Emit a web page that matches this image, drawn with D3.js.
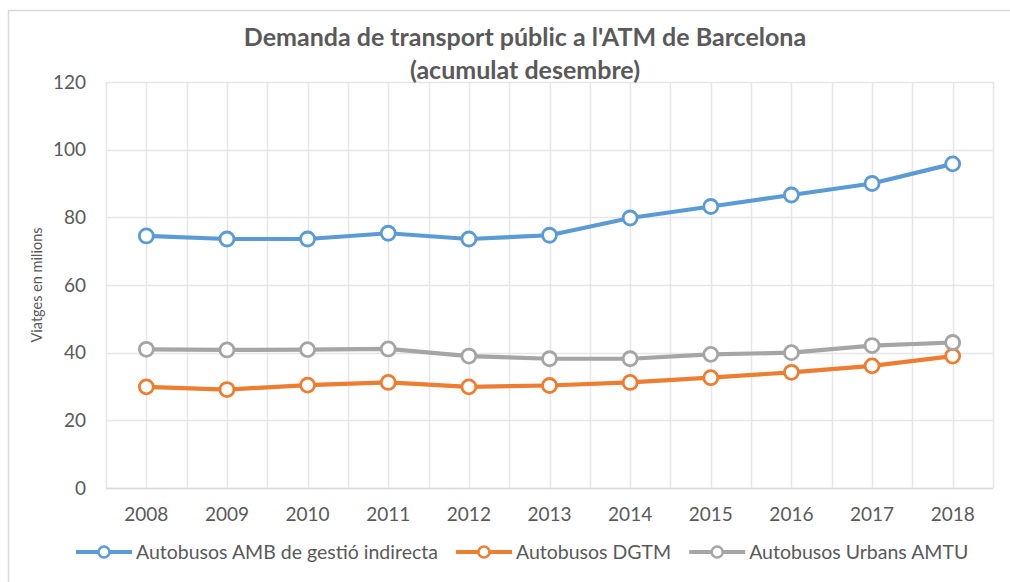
<!DOCTYPE html>
<html><head><meta charset="utf-8">
<script src="https://cdn.jsdelivr.net/npm/d3@7"></script>
<style>body{margin:0;background:#fff;} svg{display:block;font-family:Lato,"Open Sans",sans-serif;}</style>
</head><body>
<svg id="c" width="1010" height="582"></svg>
<script>
const years = ["2008","2009","2010","2011","2012","2013","2014","2015","2016","2017","2018"];
const amb  = [74.5,73.6,73.6,75.3,73.6,74.7,79.8,83.2,86.6,90.0,95.8];
const dgtm = [29.9,29.1,30.4,31.2,29.9,30.3,31.2,32.6,34.2,36.1,39.0];
const amtu = [41.0,40.8,40.9,41.1,39.0,38.2,38.2,39.5,40.0,42.1,43.0];
const seriesNames = ["Autobusos AMB de gestió indirecta","Autobusos DGTM","Autobusos Urbans AMTU"];
const colors = ["#5B9BD5","#ED7D31","#A5A5A5"];
const yTicks = [0,20,40,60,80,100,120];
const titleLines = ["Demanda de transport públic a l'ATM de Barcelona","(acumulat desembre)"];
const yTitle = "Viatges en milions";

const svg = d3.select("#c");
const L = 106, R = 993, T = 82, B = 488;
const textCol = "#595959";

// chart border
svg.append("path").attr("d","M8.5,582 V10.5 H1010").attr("fill","none").attr("stroke","#d9d9d9").attr("stroke-width",1.5);

const x = d3.scaleBand().domain(years).range([L,R]).paddingInner(0).paddingOuter(0);
const y = d3.scaleLinear().domain([0,120]).range([B,T]);

const g = svg.append("g");
const vx = [];
years.forEach(yr => { vx.push(x(yr)); vx.push(x(yr)+x.bandwidth()/2); });
vx.push(R);
g.selectAll("line.v").data(vx).join("line")
  .attr("x1",d=>Math.round(d)+0.5).attr("x2",d=>Math.round(d)+0.5).attr("y1",T).attr("y2",B)
  .attr("stroke","#e6e6e6").attr("stroke-width",1.5);
g.selectAll("line.h").data(yTicks).join("line")
  .attr("x1",L).attr("x2",R).attr("y1",d=>Math.round(y(d))+0.5).attr("y2",d=>Math.round(y(d))+0.5)
  .attr("stroke","#e6e6e6").attr("stroke-width",1.5);
g.append("line").attr("x1",L).attr("x2",R).attr("y1",B+0.5).attr("y2",B+0.5).attr("stroke","#d9d9d9").attr("stroke-width",1.5);

// axes
const yAxis = d3.axisLeft(y).tickValues(yTicks).tickSize(0).tickPadding(20);
const ya = svg.append("g").attr("transform",`translate(${L},0)`).call(yAxis);
ya.select(".domain").remove();
ya.selectAll("text").attr("font-size",19).attr("fill",textCol).attr("font-family","Lato,sans-serif");

const xAxis = d3.axisBottom(x).tickSize(0).tickPadding(20);
const xa = svg.append("g").attr("transform",`translate(0,${B})`).call(xAxis);
xa.select(".domain").remove();
xa.selectAll("text").attr("font-size",19).attr("fill",textCol).attr("font-family","Lato,sans-serif");

// y title
svg.append("text").attr("transform",`translate(42,${(T+B)/2}) rotate(-90)`)
  .attr("text-anchor","middle").attr("font-size",14.5).attr("fill",textCol).text(yTitle);

// title
svg.selectAll("text.title").data(titleLines).join("text")
  .attr("x",525).attr("y",(d,i)=>46+i*33).attr("text-anchor","middle")
  .attr("font-size",25).attr("font-weight","bold").attr("fill",textCol).text(d=>d);

// series
const data = [amb,dgtm,amtu];
const cx = d => x(d)+x.bandwidth()/2;
const line = d3.line().x((v,i)=>cx(years[i])).y(v=>y(v));
data.forEach((vals,si)=>{
  svg.append("path").datum(vals).attr("d",line).attr("fill","none")
    .attr("stroke",colors[si]).attr("stroke-width",4.2).attr("stroke-linejoin","round");
  svg.selectAll(null).data(vals).join("circle")
    .attr("cx",(v,i)=>cx(years[i])).attr("cy",v=>y(v)).attr("r",7)
    .attr("fill","#fff").attr("stroke",colors[si]).attr("stroke-width",2.8);
});

// legend
const legY = 552;
let lx = 76;
seriesNames.forEach((name,si)=>{
  const lg = svg.append("g");
  lg.append("line").attr("x1",lx).attr("x2",lx+56).attr("y1",legY).attr("y2",legY)
    .attr("stroke",colors[si]).attr("stroke-width",4);
  lg.append("circle").attr("cx",lx+28).attr("cy",legY).attr("r",5.5)
    .attr("fill","#fff").attr("stroke",colors[si]).attr("stroke-width",2.4);
  const t = lg.append("text").attr("x",lx+60).attr("y",legY+7).attr("font-size",19.5)
    .attr("fill",textCol).text(name);
  const w = t.node().getComputedTextLength();
  lx = lx + 60 + w + 18;
});
</script>
</body></html>
